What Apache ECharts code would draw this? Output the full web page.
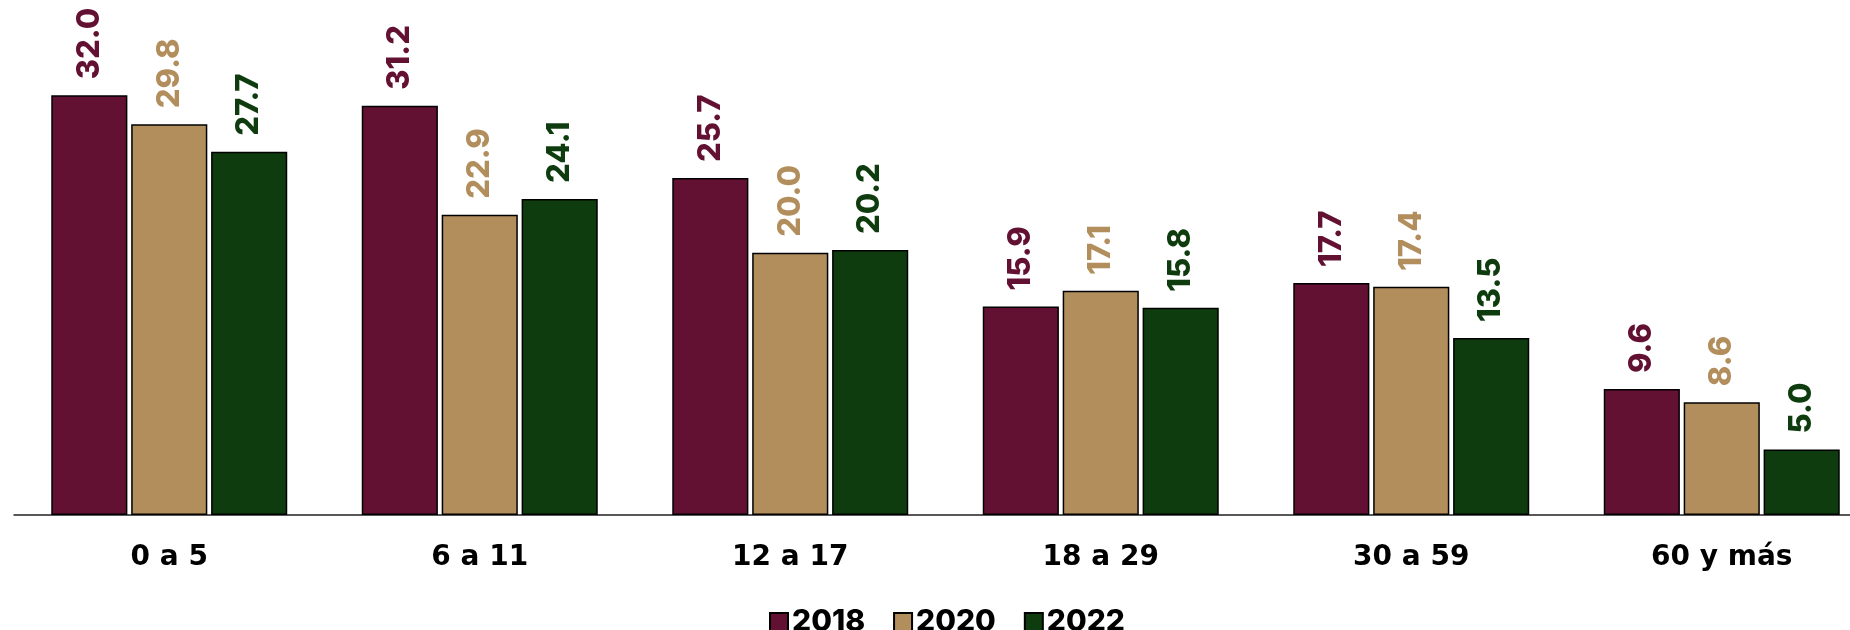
<!DOCTYPE html>
<html><head><meta charset="utf-8">
<script src="https://cdn.jsdelivr.net/npm/echarts@6/dist/echarts.min.js"></script>
<style>html,body{margin:0;padding:0;background:#fff}#c{width:1850px;height:630px}</style>
</head><body><div id="c"></div>
<script>
const categories = ['0 a 5', '6 a 11', '12 a 17', '18 a 29', '30 a 59', '60 y más'];
const seriesNames = ['2018', '2020', '2022'];
const values2018 = [32.0, 31.2, 25.7, 15.9, 17.7, 9.6];
const values2020 = [29.8, 22.9, 20.0, 17.1, 17.4, 8.6];
const values2022 = [27.7, 24.1, 20.2, 15.8, 13.5, 5.0];
const colors = ['#621132', '#B38E5D', '#0E3C0E'];
const FONT = 'Inter, "Open Sans", sans-serif';
const all = [values2018, values2020, values2022];
const chart = echarts.init(document.getElementById('c'), null, {renderer: 'canvas'});
chart.setOption({
  animation: false,
  grid: {left: 14, top: 56, width: 1863, bottom: 115, containLabel: false, outerBoundsMode: 'none'},
  legend: {
    data: seriesNames, left: 764, top: 602, itemWidth: 18, itemHeight: 18, itemGap: 28,
    textStyle: {fontFamily: FONT, fontWeight: 800, fontSize: 30, color: '#000', padding: [0,0,0,-1]},
    icon: 'rect'
  },
  xAxis: {
    type: 'category', data: categories,
    axisLine: {show: true, lineStyle: {color: '#222', width: 1.5}},
    axisTick: {show: false},
    axisLabel: {fontFamily: '"DejaVu Sans", sans-serif', fontWeight: 'bold', fontSize: 28, color: '#000', margin: 29}
  },
  yAxis: {type: 'value', min: 0, max: 35, show: false, splitLine: {show: false}},
  series: all.map((d, i) => ({
    name: seriesNames[i], type: 'bar', data: d,
    barGap: '5%', barCategoryGap: '24%',
    itemStyle: {color: colors[i], borderColor: '#000', borderWidth: 1.5},
    label: {
      show: true, position: 'top', rotate: 90, align: 'left', verticalAlign: 'middle',
      distance: 16, formatter: p => p.value.toFixed(1),
      fontFamily: FONT, fontWeight: 800, fontSize: 31, color: colors[i]
    }
  }))
});
</script></body></html>
